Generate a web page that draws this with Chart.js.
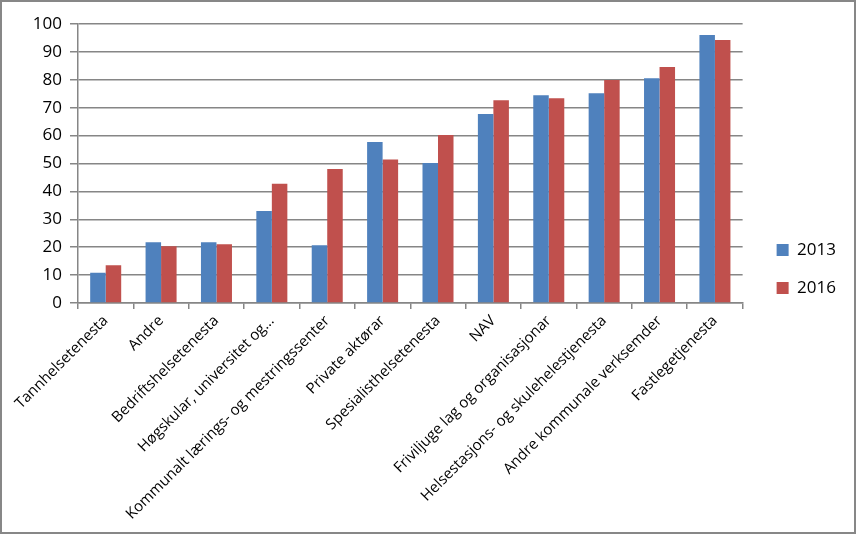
<!DOCTYPE html>
<html>
<head>
<meta charset="utf-8">
<script src="https://cdn.jsdelivr.net/npm/chart.js@4/dist/chart.umd.min.js"></script>
<style>
  html, body { margin: 0; padding: 0; background: #fff; }
  #wrap { width: 856px; height: 534px; box-sizing: border-box; border: 2px solid #878787; }
  canvas { display: block; }
</style>
</head>
<body>
<div id="wrap"><canvas id="chart" width="852" height="530"></canvas></div>
<script>
const categories = [
  'Tannhelsetenesta',
  'Andre',
  'Bedriftshelsetenesta',
  'Høgskular, universitet og…',
  'Kommunalt lærings- og mestringssenter',
  'Private aktørar',
  'Spesialisthelsetenesta',
  'NAV',
  'Friviljuge lag og organisasjonar',
  'Helsestasjons- og skulehelestjenesta',
  'Andre kommunale verksemder',
  'Fastlegetjenesta'
];
const values2013 = [10.8, 21.8, 21.8, 33.0, 20.7, 57.7, 50.2, 67.7, 74.5, 75.2, 80.6, 96.1];
const values2016 = [13.5, 20.3, 21.1, 42.7, 48.0, 51.4, 60.2, 72.7, 73.4, 79.9, 84.6, 94.3];
const seriesNames = ['2013', '2016'];

const lineGray = '#868686';
const fontFamily = '"Open Sans", sans-serif';

// nudge the legend a bit right and up, like the Excel original
const legendNudge = {
  id: 'legendNudge',
  afterLayout(chart) {
    const lg = chart.legend;
    if (!lg) return;
    lg.left += 13; lg.right += 13;
    lg.top -= 9; lg.bottom -= 9;
  }
};

new Chart(document.getElementById('chart'), {
  type: 'bar',
  data: {
    labels: categories,
    datasets: [
      { label: seriesNames[0], data: values2013, backgroundColor: '#4F81BD' },
      { label: seriesNames[1], data: values2016, backgroundColor: '#C0504D' }
    ]
  },
  options: {
    responsive: false,
    animation: false,
    layout: { padding: { top: 22, right: 21, bottom: 0, left: 0 } },
    datasets: { bar: { barPercentage: 1, categoryPercentage: 0.56 } },
    plugins: {
      tooltip: { enabled: false },
      legend: {
        position: 'right',
        labels: {
          boxWidth: 12,
          boxHeight: 12,
          padding: 21,
          color: '#000',
          font: { family: fontFamily, size: 17 }
        }
      }
    },
    scales: {
      x: {
        grid: {
          offset: true,
          drawOnChartArea: false,
          drawTicks: true,
          tickLength: 6,
          color: lineGray,
          lineWidth: 1.5
        },
        border: { color: lineGray, width: 1.5 },
        ticks: {
          color: '#000',
          minRotation: 45,
          maxRotation: 45,
          autoSkip: false,
          padding: 3,
          font: { family: fontFamily, size: 15 }
        },
        afterFit: s => { s.height = 229; }
      },
      y: {
        min: 0,
        max: 100,
        ticks: {
          stepSize: 10,
          color: '#000',
          padding: 8,
          font: { family: fontFamily, size: 17 }
        },
        grid: { color: lineGray, lineWidth: 1.5, tickLength: 8 },
        border: { color: lineGray, width: 1.5 },
        afterFit: s => { s.width = 76; }
      }
    }
  },
  plugins: [legendNudge]
});
</script>
</body>
</html>
